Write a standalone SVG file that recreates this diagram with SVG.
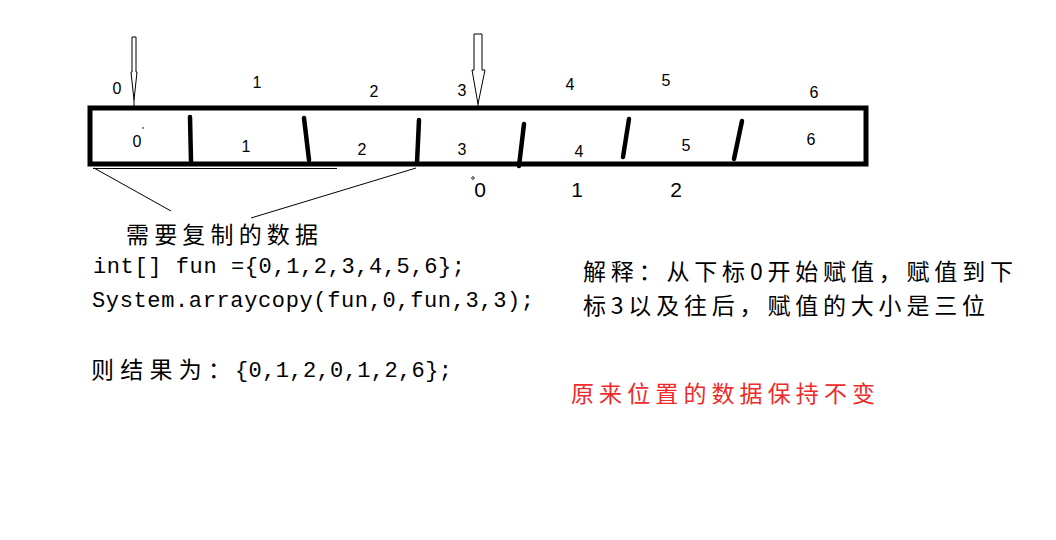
<svg xmlns="http://www.w3.org/2000/svg" width="1056" height="540" viewBox="0 0 1056 540">
<style>
.idx{font-family:"Liberation Sans","Noto Sans",sans-serif;font-size:16px;fill:#000;text-anchor:middle}
.big{font-family:"Liberation Sans",sans-serif;font-size:21px;fill:#000;text-anchor:middle}
.cjk{font-family:"Noto Sans CJK SC",sans-serif;font-size:23px;fill:#000}
.mono{font-family:"Liberation Mono","DejaVu Sans Mono",monospace;font-size:22px;fill:#000}
.div{stroke:#000;stroke-width:4.5;stroke-linecap:round}
.thin{stroke:#000;stroke-width:1;fill:none}
.arrow{fill:#fff;stroke:#000;stroke-width:1}
</style>
<rect width="1056" height="540" fill="#fff"/>
<g id="array">
<rect x="90" y="108" width="776" height="56" fill="none" stroke="#000" stroke-width="5"/>
<line class="div" x1="190" y1="117" x2="191" y2="161"/>
<line class="div" x1="304" y1="118" x2="309" y2="160"/>
<line class="div" x1="419" y1="120" x2="417" y2="163"/>
<line class="div" x1="524" y1="124" x2="519" y2="166"/>
<line class="div" x1="629" y1="119" x2="623" y2="157"/>
<line class="div" x1="742" y1="121" x2="734" y2="159"/>
<circle cx="143" cy="128" r="0.8" fill="#000"/>
<text class="idx" x="137" y="147">0</text>
<text class="idx" x="246" y="152">1</text>
<text class="idx" x="362" y="155">2</text>
<text class="idx" x="462" y="155">3</text>
<text class="idx" x="579" y="157">4</text>
<text class="idx" x="686" y="151">5</text>
<text class="idx" x="811" y="145">6</text>
</g>
<g id="top-labels">
<text class="idx" x="117" y="94">0</text>
<text class="idx" x="257" y="88">1</text>
<text class="idx" x="374" y="97">2</text>
<text class="idx" x="462" y="96">3</text>
<text class="idx" x="570" y="90">4</text>
<text class="idx" x="666" y="86">5</text>
<text class="idx" x="814" y="98">6</text>
</g>
<g id="bottom-labels">
<circle cx="473" cy="178" r="1.3" fill="none" stroke="#000" stroke-width="0.8"/>
<text class="big" x="480" y="197">0</text>
<text class="big" x="577" y="197">1</text>
<text class="big" x="676" y="197">2</text>
</g>
<g id="connectors">
<polygon class="arrow" points="132,37 136,37 136,72 137,72 134,100 131,72 132,72"/>
<line class="thin" x1="134" y1="100" x2="134" y2="107"/>
<polygon class="arrow" points="474,34 482,34 482,70 485,70 478,104 472,70 474,70"/>
<line class="thin" x1="478" y1="104" x2="478" y2="107"/>
<line class="thin" x1="93" y1="168.5" x2="337" y2="168.5"/>
<line class="thin" x1="94" y1="168" x2="171" y2="211"/>
<line class="thin" x1="416" y1="168" x2="251" y2="218"/>
</g>
<g id="label-copy">
<text class="cjk" x="126" y="243" textLength="192" lengthAdjust="spacing">需要复制的数据</text>
</g>
<g id="code">
<text class="mono" x="93" y="273" textLength="372" lengthAdjust="spacing">int[] fun ={0,1,2,3,4,5,6};</text>
<text class="mono" x="92" y="307" textLength="442" lengthAdjust="spacing">System.arraycopy(fun,0,fun,3,3);</text>
<text class="cjk" x="91" y="378" textLength="140" lengthAdjust="spacing">则结果为：</text>
<text class="mono" x="235" y="377" textLength="217" lengthAdjust="spacing">{0,1,2,0,1,2,6};</text>
</g>
<g id="explain">
<text class="cjk" x="583" y="280" textLength="430" lengthAdjust="spacing">解释：从下标0开始赋值，赋值到下</text>
<text class="cjk" x="583" y="314" textLength="402" lengthAdjust="spacing">标3以及往后，赋值的大小是三位</text>
<text class="cjk" x="571" y="402" textLength="304" lengthAdjust="spacing" style="fill:#ee2a2a">原来位置的数据保持不变</text>
</g>
</svg>
